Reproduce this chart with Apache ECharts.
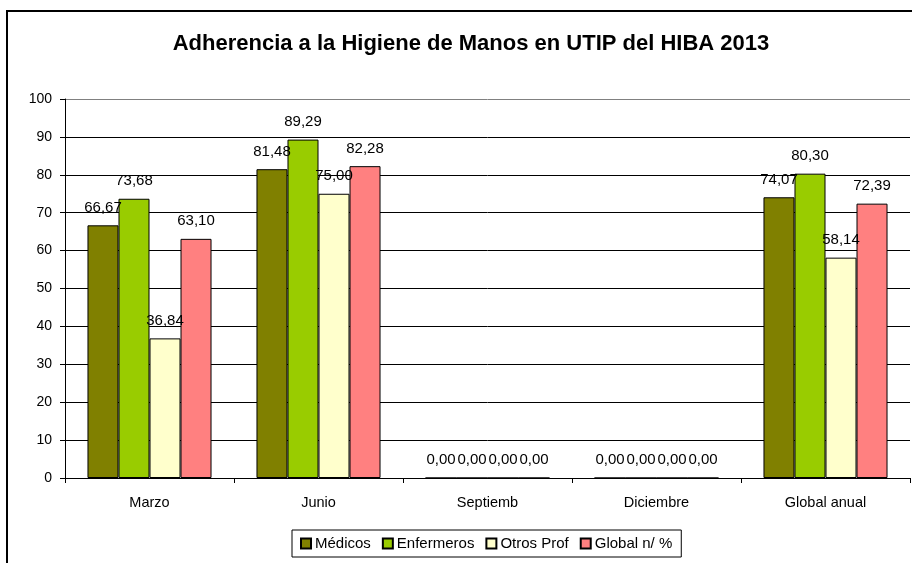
<!DOCTYPE html>
<html>
<head>
<meta charset="utf-8">
<script src="https://cdn.jsdelivr.net/npm/echarts@6/dist/echarts.min.js"></script>
<style>html,body{margin:0;padding:0;background:#fff;}#c{width:912px;height:563px;}</style>
</head>
<body>
<div id="c"></div>
<script>
const categories = ['Marzo', 'Junio', 'Septiemb', 'Diciembre', 'Global anual'];
const medicos = [66.67, 81.48, 0, 0, 74.07];
const enfermeros = [73.68, 89.29, 0, 0, 80.30];
const otrosProf = [36.84, 75.00, 0, 0, 58.14];
const globalPct = [63.10, 82.28, 0, 0, 72.39];
const seriesNames = ['Médicos', 'Enfermeros', 'Otros Prof', 'Global n/ %'];
const seriesColors = ['#808000', '#99CC00', '#FFFFCC', '#FF8080'];
const titleText = 'Adherencia a la Higiene de Manos en UTIP del HIBA 2013';

const FONT = 'Liberation Sans, Arial, sans-serif';
const fmt = p => p.value.toFixed(2).replace('.', ',');
const dataSets = [medicos, enfermeros, otrosProf, globalPct];

const chart = echarts.init(document.getElementById('c'), null, {renderer: 'canvas'});
chart.setOption({
  animation: false,
  backgroundColor: '#fff',
  textStyle: {fontFamily: FONT},
  title: {
    text: titleText,
    left: 466,
    textAlign: 'center',
    top: 28,
    textStyle: {fontFamily: FONT, fontSize: 22, fontWeight: 'bold', color: '#000'}
  },
  graphic: [{
    type: 'rect', z: -10, silent: true,
    shape: {x: 7, y: 11, width: 1200, height: 1000},
    style: {fill: 'none', stroke: '#000', lineWidth: 2}
  }],
  legend: {
    top: 530,
    left: 292,
    data: seriesNames,
    itemWidth: 10, itemHeight: 10, itemGap: 11,
    icon: 'rect',
    borderColor: '#000', borderWidth: 1,
    padding: [6, 9, 6, 8],
    textStyle: {fontFamily: FONT, fontSize: 15, color: '#000', padding: [0, 0, 0, -1]}
  },
  grid: {left: 65, right: 2, top: 99, bottom: 85, containLabel: false},
  xAxis: {
    type: 'category',
    data: categories,
    axisLine: {lineStyle: {color: '#000', width: 1}},
    axisTick: {show: true, length: 5, lineStyle: {color: '#000'}},
    axisLabel: {fontFamily: FONT, fontSize: 14.5, color: '#000', margin: 17}
  },
  yAxis: {
    type: 'value', min: 0, max: 100, interval: 10,
    axisLine: {show: true, lineStyle: {color: '#000', width: 1}},
    axisTick: {show: true, length: 5, lineStyle: {color: '#000'}},
    axisLabel: {fontFamily: FONT, fontSize: 14, color: '#000', margin: 13},
    splitLine: {show: true, lineStyle: {color: ['#000','#000','#000','#000','#000','#000','#000','#000','#000','#000','#808080'], width: 1}}
  },
  series: dataSets.map((d, i) => ({
    name: seriesNames[i],
    type: 'bar',
    data: d,
    barGap: '0%',
    barCategoryGap: '26.6%',
    itemStyle: {color: seriesColors[i], borderColor: '#000', borderWidth: 1},
    label: {show: true, position: 'top', distance: 10, formatter: fmt, fontFamily: FONT, fontSize: 15, color: '#000'}
  }))
});
</script>
</body>
</html>
